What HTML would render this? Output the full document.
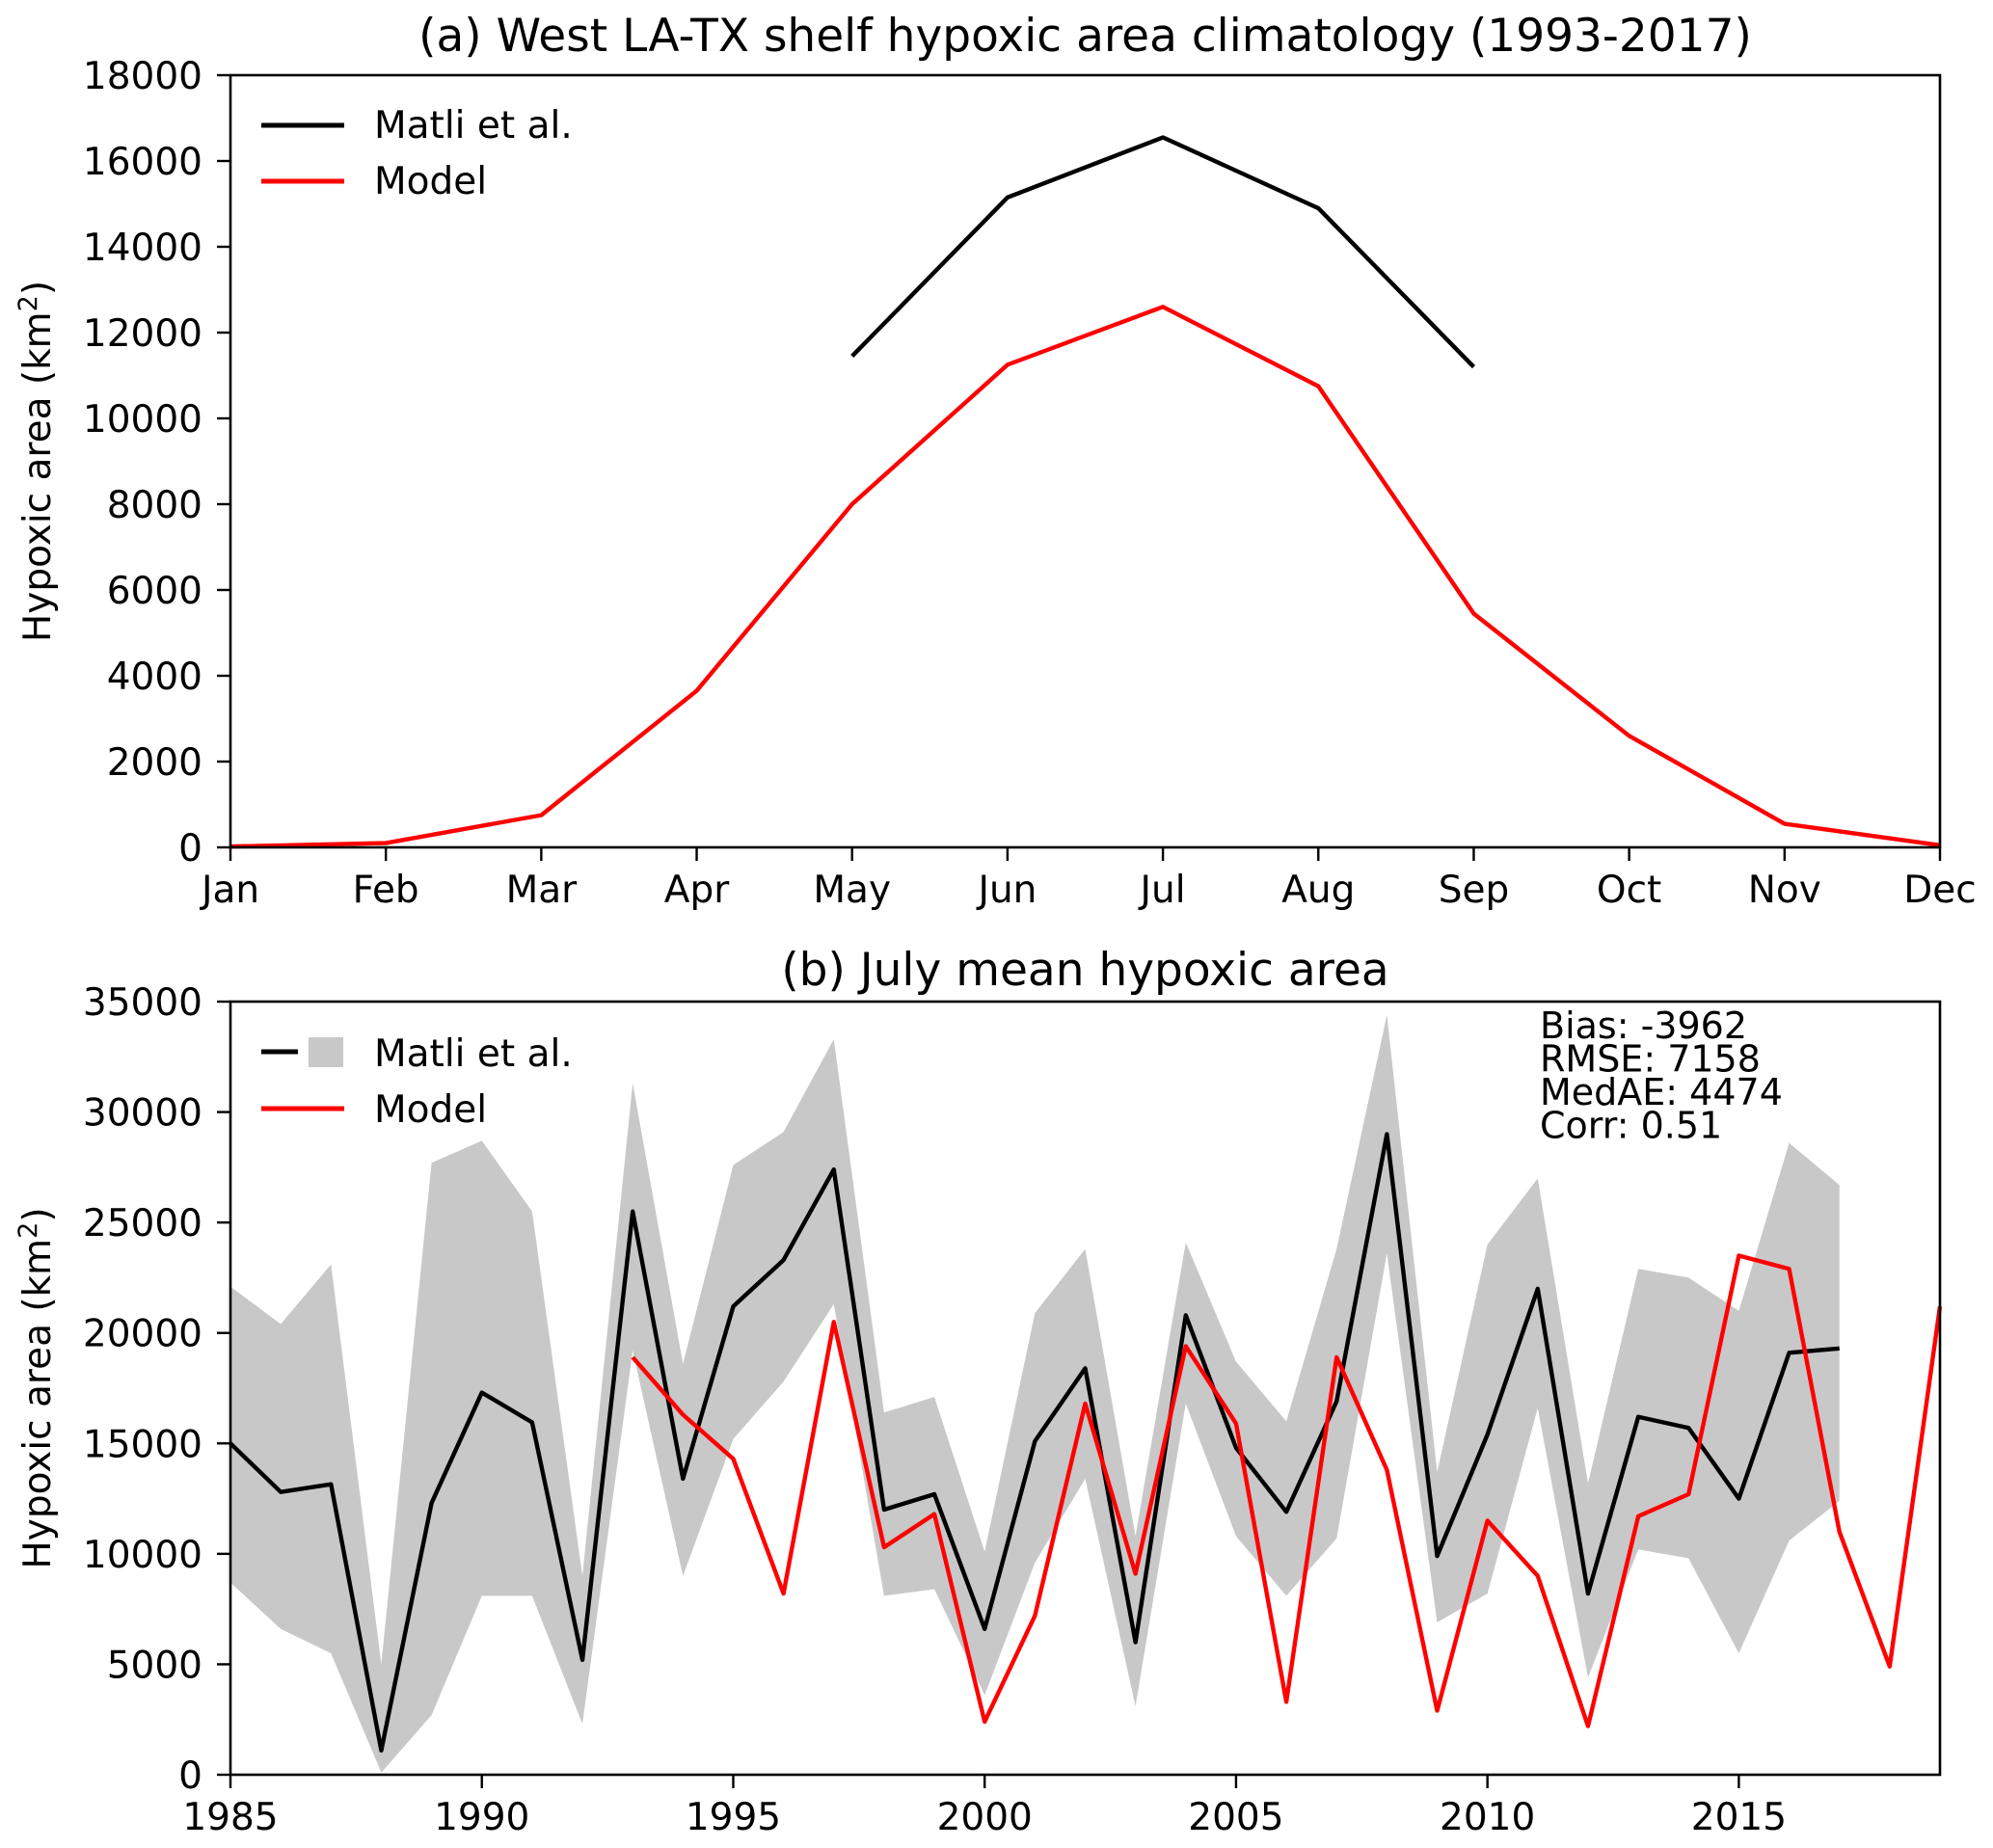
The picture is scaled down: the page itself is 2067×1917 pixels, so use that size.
<!DOCTYPE html>
<html><head><meta charset="utf-8"><style>
html,body{margin:0;padding:0;background:#fff;overflow:hidden;}
svg{display:block;font-family:"DejaVu Sans","Liberation Sans",sans-serif;}
</style></head><body>
<svg id="fig" width="2067" height="1917" viewBox="0 0 2067 1917" xmlns="http://www.w3.org/2000/svg"></svg>
<script>
const months = ["Jan","Feb","Mar","Apr","May","Jun","Jul","Aug","Sep","Oct","Nov","Dec"];
const climModel = [20,100,750,3650,8000,11250,12600,10750,5450,2600,550,50];
const climMatliMonths = [4,5,6,7,8];
const climMatli = [11450,15150,16550,14900,11200];
const yTicksA = [0,2000,4000,6000,8000,10000,12000,14000,16000,18000];

const years = [1985,1986,1987,1988,1989,1990,1991,1992,1993,1994,1995,1996,1997,1998,1999,2000,2001,2002,2003,2004,2005,2006,2007,2008,2009,2010,2011,2012,2013,2014,2015,2016,2017];
const matli = [15000,12800,13150,1100,12300,17300,15950,5200,25500,13400,21200,23300,27400,12000,12700,6600,15100,18400,6000,20800,14800,11900,16900,29000,9900,15400,22000,8200,16200,15700,12500,19100,19300];
const matliUpper = [22100,20400,23100,5000,27700,28700,25500,9000,31300,18600,27600,29100,33300,16400,17100,10100,20900,23800,10800,24100,18700,16000,23800,34400,13700,24000,27000,13200,22900,22500,21000,28600,26700];
const matliLower = [8700,6600,5500,100,2700,8100,8100,2300,19200,9000,15200,17800,21300,8100,8400,3600,9600,13400,3100,16800,10800,8100,10700,23600,6900,8200,16600,4400,10200,9800,5500,10600,12400];
const modelYears = [1993,1994,1995,1996,1997,1998,1999,2000,2001,2002,2003,2004,2005,2006,2007,2008,2009,2010,2011,2012,2013,2014,2015,2016,2017,2018,2019];
const modelVals = [18900,16300,14300,8200,20500,10300,11800,2400,7200,16800,9100,19400,15900,3300,18900,13800,2900,11500,9000,2200,11700,12700,23500,22900,11000,4900,21200];
const yTicksB = [0,5000,10000,15000,20000,25000,30000,35000];
const xTicksB = [1985,1990,1995,2000,2005,2010,2015];
const stats = ["Bias: -3962","RMSE: 7158","MedAE: 4474","Corr: 0.51"];

const NS="http://www.w3.org/2000/svg";
const svg=document.getElementById('fig');
function el(tag,attrs,parent){const e=document.createElementNS(NS,tag);for(const k in attrs)e.setAttribute(k,attrs[k]);(parent||svg).appendChild(e);return e;}
function txt(s,attrs,parent){const e=el('text',attrs,parent);e.textContent=s;return e;}

const L=239,R=2012;
const FT=39, LW=4.4;
// panel A
const aTop=78,aBot=879;
const xA=i=>L+(R-L)*i/11;
const yA=v=>aBot-(aBot-aTop)*v/18000;
const gA=el('g',{});


txt("(a) West LA-TX shelf hypoxic area climatology (1993-2017)",{x:(L+R)/2,y:53,'font-size':47,'text-anchor':'middle'},gA);
yTicksA.forEach(v=>{const y=yA(v);el('line',{x1:L-14,x2:L,y1:y,y2:y,stroke:'#000','stroke-width':2.4},gA);
 const t=txt(String(v),{x:L-29,y:y+14,'font-size':FT,'text-anchor':'end'},gA);});
months.forEach((m,i)=>{const x=xA(i);el('line',{x1:x,x2:x,y1:aBot,y2:aBot+14,stroke:'#000','stroke-width':2.4},gA);
 const t=txt(m,{x:x,y:aBot+57,'font-size':FT,'text-anchor':'middle'},gA);});
const ytA=txt("",{transform:`translate(52,${(aTop+aBot)/2}) rotate(-90)`,'font-size':FT,'text-anchor':'middle'},gA);
ytA.innerHTML='Hypoxic area (km<tspan dy="-14" font-size="27">2</tspan><tspan dy="14">)</tspan>';

el('path',{d:'M'+climModel.map((v,i)=>xA(i)+','+yA(v)).join('L'),fill:'none',stroke:'#f00','stroke-width':LW,'stroke-linejoin':'round'},gA);
el('path',{d:'M'+climMatli.map((v,i)=>xA(climMatliMonths[i])+','+yA(v)).join('L'),fill:'none',stroke:'#000','stroke-width':LW,'stroke-linejoin':'round'},gA);
el('rect',{x:L,y:aTop,width:R-L,height:aBot-aTop,fill:'none',stroke:'#000','stroke-width':2.6},gA);
const lgA=el('g',{},gA);
el('line',{x1:271,x2:357,y1:130,y2:130,stroke:'#000','stroke-width':5},lgA);
txt("Matli et al.",{x:388,y:143,'font-size':FT},lgA);
el('line',{x1:271,x2:357,y1:188,y2:188,stroke:'#f00','stroke-width':5},lgA);
txt("Model",{x:388,y:201,'font-size':FT},lgA);

// panel B
const bTop=1039,bBot=1841;
const xB=yr=>L+(R-L)*(yr-1985)/34;
const yB=v=>bBot-(bBot-bTop)*v/35000;
const gB=el('g',{});


txt("(b) July mean hypoxic area",{x:(L+R)/2,y:1022,'font-size':47,'text-anchor':'middle'},gB);
const band=el('path',{d:'M'+years.map((y,i)=>xB(y)+','+yB(matliUpper[i])).join('L')+'L'+years.slice().reverse().map((y,j)=>{const i=years.length-1-j;return xB(y)+','+yB(matliLower[i]);}).join('L')+'Z',fill:'#c8c8c8',stroke:'none'},gB);

el('path',{d:'M'+years.map((y,i)=>xB(y)+','+yB(matli[i])).join('L'),fill:'none',stroke:'#000','stroke-width':LW,'stroke-linejoin':'round'},gB);
el('path',{d:'M'+modelYears.map((y,i)=>xB(y)+','+yB(modelVals[i])).join('L'),fill:'none',stroke:'#f00','stroke-width':LW,'stroke-linejoin':'round'},gB);
yTicksB.forEach(v=>{const y=yB(v);el('line',{x1:L-14,x2:L,y1:y,y2:y,stroke:'#000','stroke-width':2.4},gB);
 const t=txt(String(v),{x:L-29,y:y+14,'font-size':FT,'text-anchor':'end'},gB);});
xTicksB.forEach(yr=>{const x=xB(yr);el('line',{x1:x,x2:x,y1:bBot,y2:bBot+14,stroke:'#000','stroke-width':2.4},gB);
 const t=txt(String(yr),{x:x,y:bBot+57,'font-size':FT,'text-anchor':'middle'},gB);});
const ytB=txt("",{transform:`translate(52,${(bTop+bBot)/2}) rotate(-90)`,'font-size':FT,'text-anchor':'middle'},gB);
ytB.innerHTML='Hypoxic area (km<tspan dy="-14" font-size="27">2</tspan><tspan dy="14">)</tspan>';

el('rect',{x:L,y:bTop,width:R-L,height:bBot-bTop,fill:'none',stroke:'#000','stroke-width':2.6},gB);
const lgB=el('g',{},gB);
el('rect',{x:320,y:1076,width:36,height:31,fill:'#c8c8c8'},lgB);
el('line',{x1:271,x2:309,y1:1091,y2:1091,stroke:'#000','stroke-width':5},lgB);
txt("Matli et al.",{x:388,y:1106,'font-size':FT},lgB);
el('line',{x1:271,x2:357,y1:1150,y2:1150,stroke:'#f00','stroke-width':5},lgB);
txt("Model",{x:388,y:1164,'font-size':FT},lgB);
const st=el('g',{},gB);
stats.forEach((s,i)=>txt(s,{x:1597,y:1077+i*34.5,'font-size':38},st));
</script>
</body></html>
